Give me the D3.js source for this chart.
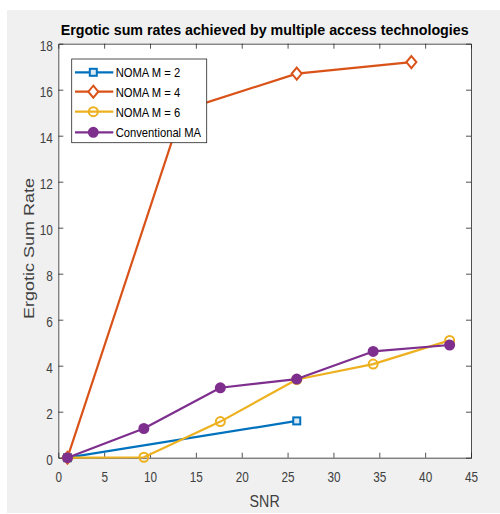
<!DOCTYPE html>
<html><head><meta charset="utf-8">
<script src="https://cdn.jsdelivr.net/npm/d3@7"></script>
<style>body{margin:0;background:#fff}svg{display:block}text{font-family:"Liberation Sans",Arial,sans-serif}</style>
</head><body>
<svg id="c" width="500" height="514"></svg>
<script>
const xNoma2 = [1, 26];
const yNoma2 = [0, 1.6];
const xNoma4 = [1, 13.5, 26, 38.5];
const yNoma4 = [0, 15.1, 16.7, 17.2];
const xNoma6 = [1, 9.33, 17.67, 26, 34.33, 42.67];
const yNoma6 = [0, 0.02, 1.57, 3.4, 4.07, 5.1];
const xConv = [1, 9.33, 17.67, 26, 34.33, 42.67];
const yConv = [0, 1.27, 3.04, 3.42, 4.62, 4.9];
const xTicks = [0,5,10,15,20,25,30,35,40,45];
const yTicks = [0,2,4,6,8,10,12,14,16,18];
const seriesNames = ["NOMA M = 2","NOMA M = 4","NOMA M = 6","Conventional MA"];
const titleText = "Ergotic sum rates achieved by multiple access technologies";

const series = [
  {name: seriesNames[0], xs: xNoma2, ys: yNoma2, color: "#0072BD", marker: "square", fill: "#dbe9f4"},
  {name: seriesNames[1], xs: xNoma4, ys: yNoma4, color: "#D95319", marker: "diamond", fill: "#fff"},
  {name: seriesNames[2], xs: xNoma6, ys: yNoma6, color: "#EDB120", marker: "circle", fill: "none"},
  {name: seriesNames[3], xs: xConv, ys: yConv, color: "#7E2F8E", marker: "circle", fill: "#7E2F8E"}
];

const SQ = 0.84; // horizontal squeeze of the reference text

function squeeze(sel, k){
  sel.each(function(){
    const w = this.getComputedTextLength();
    d3.select(this).attr("textLength", w*k).attr("lengthAdjust","spacingAndGlyphs");
  });
}

const svg = d3.select("#c");
svg.append("rect").attr("x",7).attr("y",10).attr("width",493).attr("height",503).attr("fill","#f0f0f0");

const L = 58.3, R = 471, T = 43.7, B = 457.7;
const x = d3.scaleLinear().domain([0,45]).range([L,R]);
const y = d3.scaleLinear().domain([0,18]).range([B,T]);

svg.append("rect").attr("x",L).attr("y",T).attr("width",R-L).attr("height",B-T).attr("fill","#fff");

const axCol = "#262626", tickTxt = "#404040";
const gB = svg.append("g").attr("transform",`translate(0,${B})`)
  .call(d3.axisBottom(x).tickValues(xTicks).tickSize(-5).tickPadding(14.5).tickFormat(d3.format("d")));
const gT = svg.append("g").attr("transform",`translate(0,${T})`)
  .call(d3.axisTop(x).tickValues(xTicks).tickSize(-5).tickFormat(""));
const gL = svg.append("g").attr("transform",`translate(${L},0)`)
  .call(d3.axisLeft(y).tickValues(yTicks).tickSize(-5).tickPadding(5.5).tickFormat(d3.format("d")));
const gR = svg.append("g").attr("transform",`translate(${R},0)`)
  .call(d3.axisRight(y).tickValues(yTicks).tickSize(-5).tickFormat(""));
[gB,gT,gL,gR].forEach(g=>{
  g.select(".domain").attr("stroke",axCol).attr("stroke-width",0.8);
  g.selectAll(".tick line").attr("stroke",axCol).attr("stroke-width",0.8);
  g.selectAll(".tick text").attr("fill",tickTxt).attr("font-size","14px").attr("font-family","Liberation Sans, Arial, sans-serif");
});
gL.selectAll(".tick text").attr("dy","0.47em");
squeeze(gB.selectAll(".tick text"), SQ);
squeeze(gL.selectAll(".tick text"), SQ);
gT.selectAll(".tick").filter(d=>d===0||d===45).select("line").remove();
gB.selectAll(".tick").filter(d=>d===0||d===45).select("line").remove();
gL.selectAll(".tick").filter(d=>d===0||d===18).select("line").remove();
gR.selectAll(".tick").filter(d=>d===0||d===18).select("line").remove();

const line = d3.line().x(d=>x(d[0])).y(d=>y(d[1]));

function drawMarker(g, type, cx, cy, color, fill){
  if(type==="square"){
    g.append("rect").attr("x",cx-3.5).attr("y",cy-3.5).attr("width",7).attr("height",7)
      .attr("fill",fill).attr("stroke",color).attr("stroke-width",2);
  } else if(type==="diamond"){
    g.append("path").attr("d",`M${cx},${cy-6}L${cx+5},${cy}L${cx},${cy+6}L${cx-5},${cy}Z`)
      .attr("fill",fill).attr("stroke",color).attr("stroke-width",2);
  } else {
    g.append("circle").attr("cx",cx).attr("cy",cy).attr("r",4.5)
      .attr("fill",fill==="none"?"none":fill).attr("stroke",color).attr("stroke-width",2);
  }
}

const plot = svg.append("g");
series.forEach(s=>{
  const pts = s.xs.map((v,i)=>[v,s.ys[i]]);
  plot.append("path").datum(pts).attr("d",line).attr("fill","none")
    .attr("stroke",s.color).attr("stroke-width",2.2).attr("stroke-linejoin","round");
  pts.forEach(p=>drawMarker(plot, s.marker, x(p[0]), y(p[1]), s.color, s.fill));
});

// legend
const lg = svg.append("g");
lg.append("rect").attr("x",71.7).attr("y",59).attr("width",135).attr("height",83.7)
  .attr("fill","#fff").attr("stroke","#262626").attr("stroke-width",0.8);
const rowY = [72.3, 91.7, 111.7, 132.3];
series.forEach((s,i)=>{
  lg.append("line").attr("x1",75).attr("x2",113.3).attr("y1",rowY[i]).attr("y2",rowY[i])
    .attr("stroke",s.color).attr("stroke-width",2.2);
  drawMarker(lg, s.marker, 93.3, rowY[i], s.color, s.fill);
  lg.append("text").attr("x",115.7).attr("y",rowY[i]+4.8).attr("font-size","13.5px")
    .attr("fill","#000").text(s.name);
});
squeeze(lg.selectAll("text"), 0.83);

// title
svg.append("text").attr("x",(L+R)/2).attr("y",35).attr("text-anchor","middle")
  .attr("font-size","15px").attr("font-weight","bold").attr("fill","#000")
  .attr("textLength",408).attr("lengthAdjust","spacingAndGlyphs").text(titleText);

// axis labels
const snr = svg.append("text").attr("x",(L+R)/2).attr("y",507).attr("text-anchor","middle")
  .attr("font-size","16px").attr("fill",tickTxt).text("SNR");
squeeze(snr, 0.89);
svg.append("g").attr("transform",`translate(34,248.5) scale(0.85,1) rotate(-90)`)
  .append("text").attr("text-anchor","middle")
  .attr("font-size","18px").attr("fill",tickTxt).text("Ergotic Sum Rate");
</script>
</body></html>
